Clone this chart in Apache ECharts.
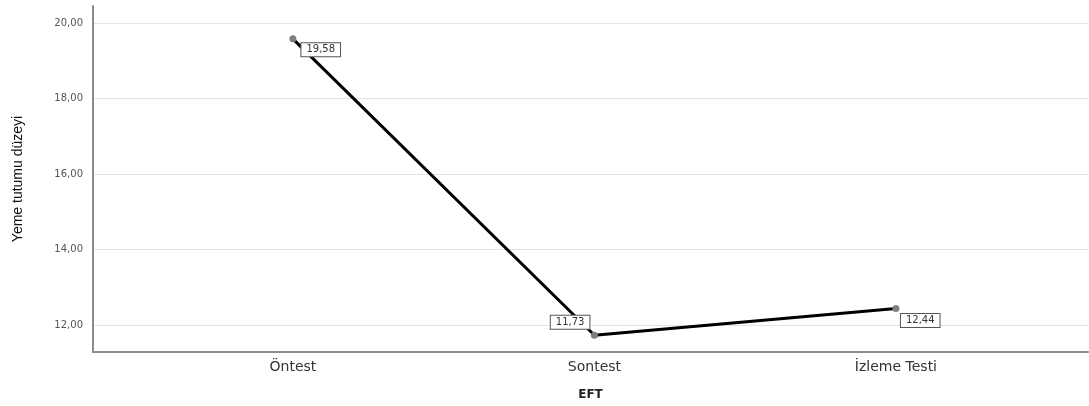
<!DOCTYPE html>
<html>
<head>
<meta charset="utf-8">
<style>
  html, body { margin: 0; padding: 0; background: #fff; }
  #chart { width: 1089px; height: 406px; }
</style>
<script src="https://cdn.jsdelivr.net/npm/echarts@6/dist/echarts.min.js"></script>
</head>
<body>
<div id="chart"></div>
<script>
const categories = ['Öntest', 'Sontest', 'İzleme Testi'];
const values = [19.58, 11.73, 12.44];
const yTicks = [12, 14, 16, 18, 20];
const xName = 'EFT';
const yName = 'Yeme tutumu düzeyi';

const fmt = v => v.toFixed(2).replace('.', ',');
const labelPlacement = [
  { position: 'right', offset: [0, 11] },
  { position: 'left', offset: [3.5, -13] },
  { position: 'right', offset: [-3.5, 12] }
];

const chart = echarts.init(document.getElementById('chart'), null, { renderer: 'canvas' });
chart.setOption({
  animation: false,
  backgroundColor: '#ffffff',
  grid: { left: 93, right: 1, top: 6, bottom: 53, containLabel: false },
  xAxis: {
    type: 'value',
    min: -0.663,
    max: 2.637,
    name: xName,
    nameLocation: 'middle',
    nameGap: 37,
    nameTextStyle: { fontFamily: 'DejaVu Sans', fontSize: 12, fontWeight: 'bold', color: '#222', verticalAlign: 'top' },
    axisLine: { show: true, onZero: false, lineStyle: { color: '#8c8c8c', width: 2 } },
    axisTick: { show: false, customValues: [0, 1, 2] },
    splitLine: { show: false },
    axisLabel: {
      customValues: [0, 1, 2],
      margin: 8,
      fontFamily: 'DejaVu Sans',
      fontSize: 14,
      color: '#333',
      formatter: v => categories[Math.round(v)] || ''
    }
  },
  yAxis: {
    type: 'value',
    min: 11.287,
    max: 20.45,
    name: yName,
    nameLocation: 'middle',
    nameGap: 68,
    nameRotate: 90,
    nameTextStyle: { fontFamily: 'Liberation Sans', fontSize: 14, color: '#111' },
    axisLine: { show: true, onZero: false, lineStyle: { color: '#8c8c8c', width: 2 } },
    axisTick: { show: false, customValues: yTicks },
    splitLine: { show: true, lineStyle: { color: '#e3e3e3', width: 1 } },
    axisLabel: {
      customValues: yTicks,
      margin: 10,
      fontFamily: 'DejaVu Sans',
      fontSize: 10,
      color: '#555',
      formatter: v => fmt(v)
    }
  },
  series: [{
    type: 'line',
    data: values.map((v, i) => ({
      value: [i, v],
      label: labelPlacement[i]
    })),
    lineStyle: { color: '#000', width: 3 },
    symbol: 'circle',
    symbolSize: 7,
    itemStyle: { color: '#7f7f7f' },
    z: 3,
    label: {
      show: true,
      distance: 5,
      formatter: p => fmt(p.value[1]),
      fontFamily: 'DejaVu Sans',
      fontSize: 10,
      lineHeight: 11,
      color: '#333',
      backgroundColor: '#fff',
      borderColor: '#555',
      borderWidth: 1,
      padding: [1, 5]
    }
  }]
});
</script>
</body>
</html>
